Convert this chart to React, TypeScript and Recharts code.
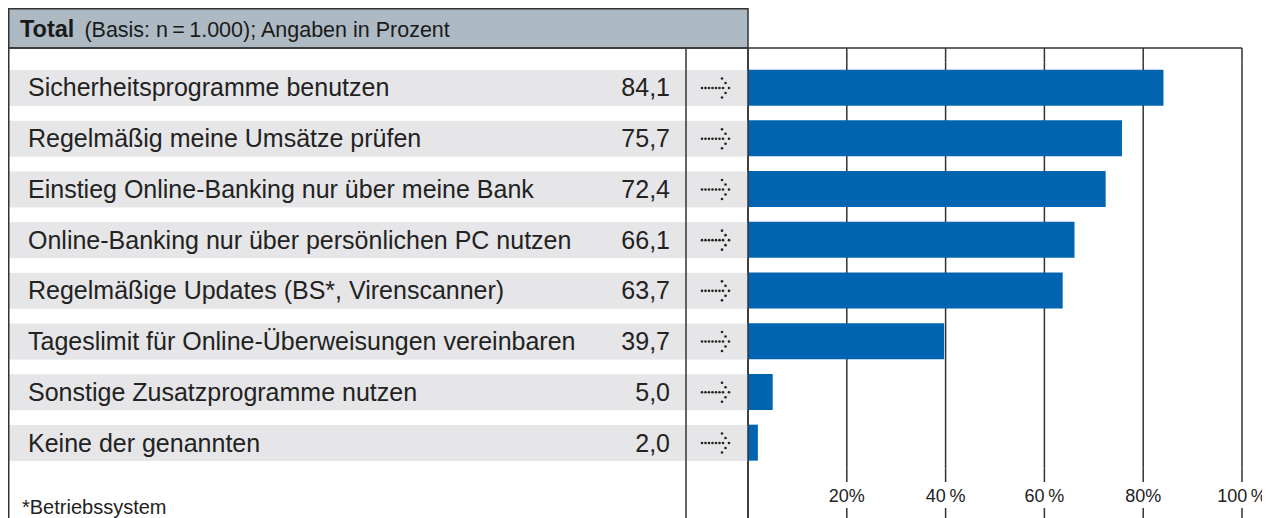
import React from "react";
import { BarChart, Bar, XAxis, YAxis, CartesianGrid } from "recharts";

const categories = [
  "Sicherheitsprogramme benutzen",
  "Regelmäßig meine Umsätze prüfen",
  "Einstieg Online-Banking nur über meine Bank",
  "Online-Banking nur über persönlichen PC nutzen",
  "Regelmäßige Updates (BS*, Virenscanner)",
  "Tageslimit für Online-Überweisungen vereinbaren",
  "Sonstige Zusatzprogramme nutzen",
  "Keine der genannten",
];
const values = [84.1, 75.7, 72.4, 66.1, 63.7, 39.7, 5.0, 2.0];
const xTicks = [0, 20, 40, 60, 80, 100];
const xTickLabels = ["", "20%", "40\u2009%", "60\u2009%", "80%", "100\u2009%"];

const data = categories.map((name, i) => ({ name, value: values[i] }));

const W = 1262;
const H = 510;
const TOP = 54.64;
const XAXIS_H = 30;
const BOTTOM = 19.64;
const LEFT_W = 740;
const RIGHT = 28;
const PLOT_BOTTOM = H - BOTTOM - XAXIS_H;
const LINE = "#333";
const FONT = "'Liberation Sans', Arial, Helvetica, sans-serif";

const fmt = (v: number) => v.toFixed(1).replace(".", ",");

const YTick = (props: any) => {
  const { y, index } = props;
  const dots = [702, 705.5, 709, 712.5, 716, 719.5, 723].map((px) => px - 8);
  const head = [
    [722, -9.5],
    [725.5, -5],
    [729, 0],
    [725.5, 5],
    [722, 9.5],
  ];
  return (
    <g>
      <rect x={0} y={y - 18} width={LEFT_W} height={36} fill="#e6e6e8" />
      <text x={20} y={y + 8.5} fontSize={25} fill="#222" fontFamily={FONT}>
        {categories[index]}
      </text>
      <text x={662} y={y + 8.5} fontSize={25} fill="#222" fontFamily={FONT} textAnchor="end">
        {fmt(values[index])}
      </text>
      {dots.map((dx, k) => (
        <circle key={"d" + k} cx={dx} cy={y} r={1.3} fill="#222" />
      ))}
      {head.map(([hx, hy], k) => (
        <circle key={"h" + k} cx={hx - 8} cy={y + hy} r={1.3} fill="#222" />
      ))}
    </g>
  );
};

const XTick = (props: any) => {
  const { x, index } = props;
  if (index === 0) {
    return (
      <g>
        <line x1={x} x2={x} y1={40} y2={TOP} stroke={LINE} strokeWidth={1.5} />
        <line x1={x} x2={x} y1={PLOT_BOTTOM} y2={H} stroke={LINE} strokeWidth={1.5} />
      </g>
    );
  }
  return (
    <g>
      <line x1={x} x2={x} y1={40} y2={TOP} stroke={LINE} strokeWidth={1.5} />
      <line x1={x} x2={x} y1={PLOT_BOTTOM} y2={474} stroke={LINE} strokeWidth={1.5} />
      <line x1={x} x2={x} y1={500} y2={H} stroke={LINE} strokeWidth={1.5} />
      <text x={x} y={494} fontSize={18} fill="#222" fontFamily={FONT} textAnchor="middle">
        {xTickLabels[index]}
      </text>
    </g>
  );
};

export default function App() {
  return (
    <div style={{ position: "relative", width: W, height: H, background: "#fff" }}>
      <BarChart
        width={W}
        height={H}
        data={data}
        layout="vertical"
        margin={{ top: TOP, right: RIGHT, bottom: BOTTOM, left: 0 }}
        barCategoryGap={0}
        style={{ overflow: "visible" }}
      >
        <CartesianGrid horizontal={false} vertical={true} stroke={LINE} strokeWidth={1.5} />
        <XAxis
          type="number"
          domain={[0, 100]}
          ticks={xTicks}
          axisLine={false}
          tickLine={false}
          height={XAXIS_H}
          interval={0}
          tick={<XTick />}
        />
        <YAxis
          type="category"
          dataKey="name"
          width={LEFT_W}
          axisLine={false}
          tickLine={false}
          interval={0}
          tick={<YTick />}
        />
        <Bar dataKey="value" fill="#0064b1" barSize={36} isAnimationActive={false} />
      </BarChart>
      <svg
        width={W}
        height={H}
        style={{ position: "absolute", left: 0, top: 0, pointerEvents: "none" }}
      >
        <rect x={0.75} y={0.75} width={LEFT_W - 0.75} height={39.25} fill="#adbac4" stroke={LINE} strokeWidth={1.5} />
        <text x={12} y={29} fontFamily={FONT} fill="#1a1a1a">
          <tspan fontSize={23.5} fontWeight="bold">Total</tspan>
          <tspan fontSize={21.5} dx={10}>(Basis: n{"\u2009"}={"\u2009"}1.000); Angaben in Prozent</tspan>
        </text>
        <line x1={0} x2={W - RIGHT} y1={40} y2={40} stroke={LINE} strokeWidth={1.5} />
        <line x1={0.75} x2={0.75} y1={40} y2={H} stroke={LINE} strokeWidth={1.5} />
        <line x1={678} x2={678} y1={40} y2={H} stroke={LINE} strokeWidth={1.5} />
        <line x1={LEFT_W} x2={LEFT_W} y1={40} y2={H} stroke={LINE} strokeWidth={1.5} />
        <text x={14} y={506} fontSize={20} fontFamily={FONT} fill="#222">
          *Betriebssystem
        </text>
      </svg>
    </div>
  );
}
